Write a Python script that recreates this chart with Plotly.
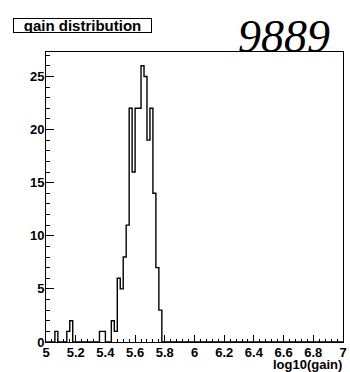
import plotly.graph_objects as go

# Histogram data (bin width 0.02 from 5 to 7); only non-empty bins listed
x_min = 5.0
x_max = 7.0
bin_width = 0.02
bin_starts = [5.06, 5.14, 5.16, 5.36, 5.38, 5.44, 5.46, 5.48, 5.50, 5.52, 5.54,
              5.56, 5.58, 5.60, 5.62, 5.64, 5.66, 5.68, 5.70, 5.72, 5.74, 5.76]
bin_counts = [1, 1, 2, 1, 1, 2, 1, 6, 5, 8, 11,
              22, 16, 22, 22, 26, 25, 19, 22, 14, 7, 3]

x_ticks = [5, 5.2, 5.4, 5.6, 5.8, 6, 6.2, 6.4, 6.6, 6.8, 7]
y_ticks = [0, 5, 10, 15, 20, 25]
title_text = "gain distribution"
note_text = "9889"
x_title = "log10(gain)"

# Build full bin list and step outline
n_bins = int(round((x_max - x_min) / bin_width))
counts = [0] * n_bins
for s, c in zip(bin_starts, bin_counts):
    counts[int(round((s - x_min) / bin_width))] = c
edges = [x_min + i * bin_width for i in range(n_bins + 1)]
step_x = edges
step_y = counts + [counts[-1]]

fig = go.Figure()
fig.add_trace(go.Scatter(x=step_x, y=step_y, mode="lines", line_shape="hv",
                         line=dict(color="black", width=1.4),
                         showlegend=False, hoverinfo="skip"))

tickfont = dict(family="Liberation Sans", size=13, color="black", weight="bold")
fig.update_layout(
    width=350, height=372,
    margin=dict(l=46, r=3, t=52, b=30, pad=0),
    paper_bgcolor="white", plot_bgcolor="white",
    showlegend=False,
    xaxis=dict(range=[x_min, x_max], tickvals=x_ticks, ticks="inside", ticklen=7,
               tickwidth=1, tickcolor="black", showgrid=False, zeroline=False,
               showline=True, linecolor="black", linewidth=1, mirror=True,
               tickfont=tickfont, ticklabelstandoff=-2, ticklabeloverflow="allow",
               minor=dict(dtick=0.04, ticks="inside", ticklen=3.5, tickcolor="black",
                          tickwidth=1, showgrid=False)),
    yaxis=dict(range=[0, 27.3], tickvals=y_ticks, ticks="inside", ticklen=8,
               tickwidth=1, tickcolor="black", showgrid=False, zeroline=False,
               showline=True, linecolor="black", linewidth=1, mirror=True,
               tickfont=tickfont, ticklabelstandoff=-2, ticklabeloverflow="allow",
               minor=dict(dtick=1, ticks="inside", ticklen=4, tickcolor="black",
                          tickwidth=1, showgrid=False)),
    annotations=[
        dict(text=title_text, xref="paper", yref="paper", x=-0.112, y=1.116,
             xanchor="left", yanchor="top", showarrow=False,
             width=137, height=13, align="center",
             font=dict(family="Liberation Sans", size=15, color="black", weight="bold"),
             bordercolor="black", borderwidth=1, borderpad=0, bgcolor="white"),
        dict(text=note_text, xref="paper", yref="paper", x=0.80, y=1.055,
             xanchor="center", yanchor="middle", showarrow=False,
             font=dict(family="Liberation Serif", size=46, color="black", style="italic")),
        dict(text=x_title, xref="paper", yref="paper", x=1.003, y=-0.078,
             xanchor="right", yanchor="middle", showarrow=False,
             font=dict(family="Liberation Sans", size=13, color="black", weight="bold")),
    ],
)

fig.write_html("out.html", config={"displayModeBar": False},
               post_script="document.body.style.margin='0';")
